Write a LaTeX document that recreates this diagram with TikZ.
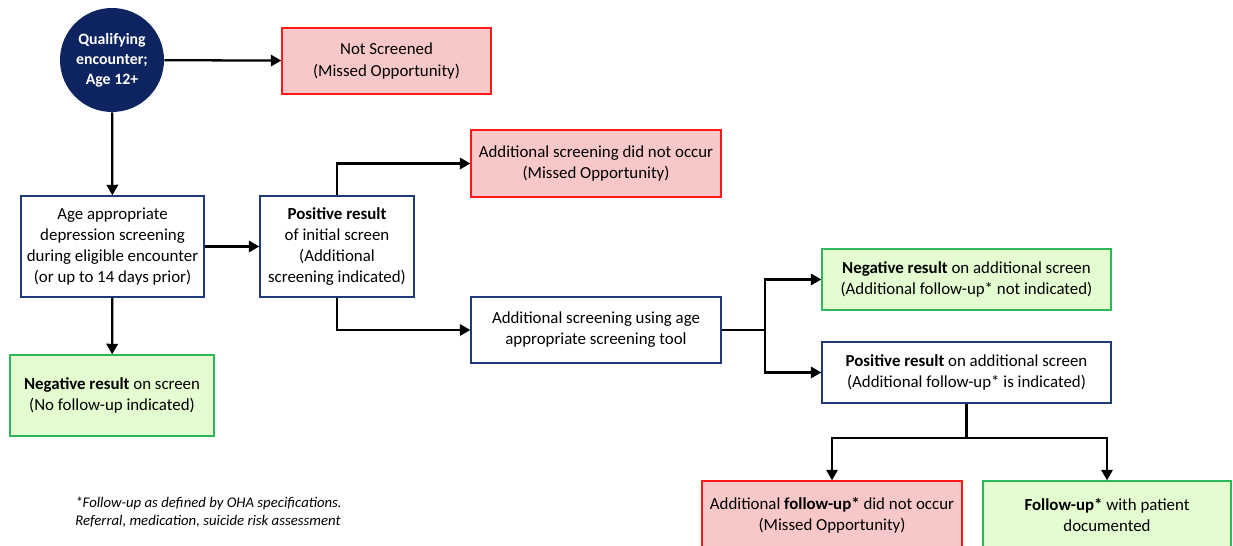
\documentclass[tikz,border=0pt]{standalone}
\usepackage{fontspec}
\setmainfont{Carlito}
\usetikzlibrary{arrows.meta}
\definecolor{navy}{HTML}{0D2461}
\definecolor{boxline}{HTML}{1F3A78}
\definecolor{missfill}{HTML}{F8C7C7}
\definecolor{missline}{HTML}{FF1A1A}
\definecolor{okfill}{HTML}{E3FCD0}
\definecolor{okline}{HTML}{2DB85A}
\tikzset{
  every node/.style={font=\fontsize{9.6}{12}\selectfont, align=center, inner sep=0pt},
  stepbox/.style={draw=boxline, line width=0.8pt, fill=white, rectangle},
  missbox/.style={draw=missline, line width=0.8pt, fill=missfill, rectangle},
  okbox/.style={draw=okline, line width=0.8pt, fill=okfill, rectangle},
  start/.style={circle, fill=navy, text=white, minimum size=2.08cm, font=\fontsize{9}{11.4}\selectfont\bfseries},
  flow/.style={line width=1.3pt, -{Triangle[length=6pt,width=6.5pt]}},
  link/.style={line width=1.3pt},
}
\begin{document}
\begin{tikzpicture}[x=0.02cm, y=-0.02cm]
    \useasboundingbox (0,0) rectangle (1233,546);
    \clip (0,0) rectangle (1233,546);
    \node[start] at (112,60) (qual) {Qualifying\\encounter;\\Age 12+};
    \node[missbox, minimum width=4.18cm, minimum height=1.32cm] at (386.5,61) (notscr) {Not Screened\\(Missed Opportunity)};
    \node[stepbox, minimum width=3.66cm, minimum height=2.02cm] at (112.5,246.5) (agescr) {Age appropriate\\depression screening\\during eligible encounter\\(or up to 14 days prior)};
    \node[stepbox, minimum width=3.08cm, minimum height=2.02cm] at (337,246.5) (posinit) {\textbf{Positive result}\\of initial screen\\(Additional\\screening indicated)};
    \node[okbox, minimum width=4.08cm, minimum height=1.62cm] at (112,395.5) (neginit) {\textbf{Negative result} on screen\\(No follow-up indicated)};
    \node[missbox, minimum width=5cm, minimum height=1.34cm] at (596,163.5) (addno) {Additional screening did not occur\\(Missed Opportunity)};
    \node[stepbox, minimum width=5cm, minimum height=1.32cm] at (596,330) (adduse) {Additional screening using age\\appropriate screening tool};
    \node[okbox, minimum width=5.78cm, minimum height=1.22cm] at (966.5,279.5) (negadd) {\textbf{Negative result} on additional screen\\(Additional follow-up* not indicated)};
    \node[stepbox, minimum width=5.78cm, minimum height=1.22cm] at (966.5,372.5) (posadd) {\textbf{Positive result} on additional screen\\(Additional follow-up* is indicated)};
    \node[missbox, minimum width=5.2cm, minimum height=1.36cm] at (832,515) (fupno) {Additional \textbf{follow-up*} did not occur\\(Missed Opportunity)};
    \node[okbox, minimum width=4.96cm, minimum height=1.36cm] at (1107,515) (fupyes) {\textbf{Follow-up*} with patient\\documented};
    \node[align=left, anchor=west, font=\fontsize{8.4}{10}\selectfont\itshape] at (75,512) (note) {*Follow-up as defined by OHA specifications.\\Referral, medication, suicide risk assessment};
    \coordinate (split) at (765,330);
    \coordinate (join) at (966.5,438);
    \draw[flow] (qual) -- (notscr);
    \draw[flow] (qual) -- (agescr);
    \draw[flow] (agescr) -- (posinit);
    \draw[flow] (agescr) -- (neginit);
    \draw[flow] (posinit.north) |- (addno.west);
    \draw[flow] (posinit.south) |- (adduse.west);
    \draw[link] (adduse.east) -- (split);
    \draw[flow] (split) |- (negadd.west);
    \draw[flow] (split) |- (posadd.west);
    \draw[link] (posadd.south) -- (join);
    \draw[flow] (join) -| (fupno.north);
    \draw[flow] (join) -| (fupyes.north);
  \end{tikzpicture}
\end{document}
